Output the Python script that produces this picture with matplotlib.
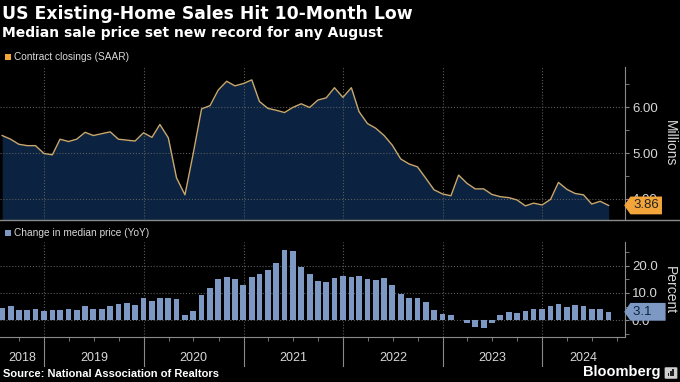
import numpy as np
import pandas as pd
import matplotlib
matplotlib.use('Agg')
import matplotlib.pyplot as plt
import matplotlib.dates as mdates
from matplotlib.path import Path
from matplotlib.patches import FancyBboxPatch, Rectangle

plt.rcParams['font.family'] = ['Liberation Sans', 'DejaVu Sans']

# month-end dates, Jul 2018 .. Aug 2024
months = pd.date_range('2018-07-31', '2024-08-31', freq='ME')

# existing-home sales, SAAR, millions
sales = [5.38, 5.30, 5.19, 5.16, 5.16, 4.99, 4.96, 5.30, 5.25, 5.30, 5.45, 5.38,
         5.42, 5.46, 5.30, 5.28, 5.26, 5.44, 5.34, 5.62, 5.33, 4.46, 4.09, 4.98,
         5.96, 6.03, 6.37, 6.56, 6.46, 6.51, 6.59, 6.12, 5.97, 5.93, 5.88, 5.99,
         6.07, 5.99, 6.15, 6.20, 6.42, 6.21, 6.42, 5.90, 5.64, 5.54, 5.38, 5.17,
         4.87, 4.76, 4.70, 4.45, 4.20, 4.11, 4.07, 4.52, 4.34, 4.22, 4.22, 4.10,
         4.05, 4.03, 3.98, 3.85, 3.91, 3.87, 3.99, 4.36, 4.21, 4.12, 4.09, 3.89,
         3.95, 3.86]

# median price change YoY, percent
price_yoy = [4.5, 5.2, 3.9, 3.9, 4.3, 3.4, 3.7, 3.9, 4.0, 3.7, 5.2, 4.3,
             4.3, 5.2, 5.8, 6.4, 5.5, 8.1, 7.0, 8.3, 8.3, 7.6, 2.1, 3.3,
             9.4, 11.7, 15.2, 15.7, 15.0, 12.9, 15.7, 16.8, 18.3, 21.0, 25.8, 25.2,
             19.6, 16.8, 14.2, 13.9, 15.6, 16.3, 15.7, 16.0, 15.0, 14.7, 15.3, 12.9,
             9.7, 8.3, 8.2, 6.6, 3.9, 2.2, 1.8, 0.1, -1.1, -2.5, -2.9, -0.9,
             1.8, 3.2, 2.5, 3.4, 4.0, 4.0, 5.2, 5.8, 4.7, 5.5, 5.3, 4.3,
             4.0, 3.1]

years = [2018, 2019, 2020, 2021, 2022, 2023, 2024]

BG = 'black'
AREA = '#0b2341'
LINE = '#c8a86c'
ORANGE = '#f2a53a'
BAR = '#7d98c3'
GRID = '#5a5a5a'
AXIS = '#8a8a8a'
TXT = '#d8d8d8'

xmin = pd.Timestamp('2018-07-23')
xmax = pd.Timestamp('2024-10-30')
year_starts = [pd.Timestamp(f'{y}-01-01') for y in years[1:]]


def tag_box(x0, y0, width, height, mutation_size):
    # value tag: box with a small point on the left
    pad = 0.22 * mutation_size
    x0, y0 = x0 - pad, y0 - pad
    x1, y1 = x0 + width + 2 * pad, y0 + height + 2 * pad
    tip = (y1 - y0) * 0.35
    return Path([(x0, y0), (x1, y0), (x1, y1), (x0, y1),
                 (x0 - tip, (y0 + y1) / 2), (x0, y0)], closed=True)


def style_axis(ax):
    ax.set_facecolor(BG)
    for s in ['left', 'top', 'bottom']:
        ax.spines[s].set_visible(False)
    ax.spines['right'].set_color(AXIS)
    ax.yaxis.tick_right()
    ax.tick_params(axis='y', which='both', colors=AXIS, labelcolor=TXT,
                   length=3, labelsize=9.5, pad=2)
    ax.set_xlim(xmin, xmax)
    ax.set_xticks(year_starts)
    ax.tick_params(axis='x', which='major', length=0, labelbottom=False)
    ax.grid(color=GRID, ls=':', lw=0.8)


fig = plt.figure(figsize=(6.8, 3.82), dpi=100, facecolor=BG)

# top panel: sales
ax1 = fig.add_axes([0, 1 - 219 / 382, 625 / 680, 152 / 382])
style_axis(ax1)
ax1.fill_between(months, sales, 0, color=AREA, lw=0, zorder=1)
ax1.plot(months, sales, color=LINE, lw=1, zorder=3)
ax1.set_ylim(3.565, 6.87)
ax1.set_yticks([4, 5, 6])
ax1.set_yticks([4.5, 5.5, 6.5], minor=True)
ax1.yaxis.set_major_formatter('{x:.2f}')
ax1.annotate(f'{sales[-1]:.2f}', xy=(1, sales[-1]), xycoords=ax1.get_yaxis_transform(),
             xytext=(6, 0), textcoords='offset points', va='center', ha='left',
             fontsize=9.5, color='#222222', annotation_clip=False, zorder=5,
             bbox=dict(boxstyle=tag_box, fc=ORANGE, ec='none'))

# bottom panel: median price YoY
ax2 = fig.add_axes([0, 1 - 337 / 382, 625 / 680, 95 / 382])
style_axis(ax2)
ax2.spines['bottom'].set_visible(True)
ax2.spines['bottom'].set_color(AXIS)
ax2.bar(months, price_yoy, width=21, color=BAR, zorder=3)
ax2.set_ylim(-6.1, 28.6)
ax2.set_yticks([0, 10, 20])
ax2.set_yticks([-5, 5, 15, 25], minor=True)
ax2.yaxis.set_major_formatter('{x:.1f}')
ax2.xaxis.set_minor_locator(mdates.MonthLocator(bymonth=[1, 4, 7, 10]))
ax2.tick_params(axis='x', which='minor', length=3, colors=AXIS)
ax2.annotate(f'{price_yoy[-1]:.1f}   ', xy=(1, price_yoy[-1]), xycoords=ax2.get_yaxis_transform(),
             xytext=(6, 0), textcoords='offset points', va='center', ha='left',
             fontsize=9.5, color='#0b2341', annotation_clip=False, zorder=5,
             bbox=dict(boxstyle=tag_box, fc=BAR, ec='none'))

# year separators and labels below the bars
xt = ax2.get_xaxis_transform()
for d in year_starts:
    ax2.plot([mdates.date2num(d)] * 2, [0, -0.3], transform=xt, color=AXIS, lw=0.8, clip_on=False)
for y in years:
    a = max(pd.Timestamp(f'{y}-01-01'), xmin)
    b = min(pd.Timestamp(f'{y + 1}-01-01'), xmax)
    ax2.text(mdates.date2num(a + (b - a) / 2), -0.22, str(y), transform=xt,
             ha='center', va='center', color=TXT, fontsize=9)

# divider between panels
fig.add_artist(plt.Line2D([0, 1], [1 - 219.5 / 382] * 2, transform=fig.transFigure, color=AXIS, lw=1))

# titles and labels
fig.text(0.003, 1 - 14 / 382, 'US Existing-Home Sales Hit 10-Month Low', color='white',
         fontsize=12.4, fontweight='bold', va='center', family='DejaVu Sans')
fig.text(0.003, 1 - 33 / 382, 'Median sale price set new record for any August', color='white',
         fontsize=10, fontweight='bold', va='center', family='DejaVu Sans')
for yy, col, label in [(57, ORANGE, 'Contract closings (SAAR)'),
                       (233, BAR, 'Change in median price (YoY)')]:
    fig.add_artist(Rectangle((5 / 680, 1 - (yy + 3) / 382), 6 / 680, 6 / 382,
                             fc=col, ec='none', transform=fig.transFigure))
    fig.text(14 / 680, 1 - yy / 382, label, color=TXT, fontsize=7.3, va='center')
fig.text(0.985, 1 - 143 / 382, 'Millions', color=TXT, fontsize=10, rotation=270, ha='center', va='center')
fig.text(0.985, 1 - 290 / 382, 'Percent', color=TXT, fontsize=10, rotation=270, ha='center', va='center')
fig.text(0.004, 1 - 374 / 382, 'Source: National Association of Realtors', color='white',
         fontsize=8, fontweight='bold', va='center')
fig.text(0.972, 1 - 372 / 382, 'Bloomberg', color='white', fontsize=10.5, fontweight='bold',
         ha='right', va='center')

# little logo square
fig.add_artist(FancyBboxPatch((666 / 680, 1 - 378 / 382), 10 / 680, 10 / 382,
                              boxstyle='round,pad=0.002', fc='#cfcfcf', ec='none',
                              transform=fig.transFigure))
for k, h in enumerate([3, 5, 7]):
    fig.add_artist(Rectangle(((668 + 2.2 * k) / 680, 1 - 376 / 382), 1.3 / 680, h / 382,
                             fc='#222222', ec='none', transform=fig.transFigure))

fig.savefig('out.png', dpi=100, facecolor=BG)
